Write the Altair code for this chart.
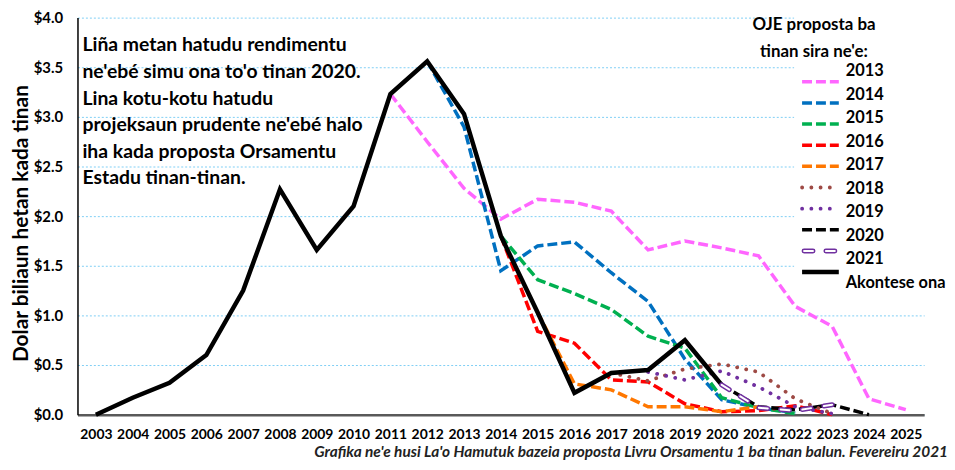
import altair as alt
import pandas as pd

# ---------------- data ----------------
years_axis = list(range(2003, 2026))

actual_years = list(range(2003, 2021))
actual_vals = [0.00, 0.17, 0.32, 0.60, 1.25, 2.27, 1.66, 2.10, 3.23, 3.56,
               3.03, 1.80, 1.03, 0.22, 0.42, 0.45, 0.75, 0.30]

oje2013_years = list(range(2011, 2026))
oje2013_vals = [3.23, 2.75, 2.28, 1.97, 2.17, 2.14, 2.05, 1.66, 1.75, 1.68,
                1.60, 1.09, 0.89, 0.16, 0.05]
oje2014_years = list(range(2012, 2023))
oje2014_vals = [3.56, 2.90, 1.45, 1.70, 1.74, 1.43, 1.14, 0.56, 0.15, 0.07, 0.02]
oje2015_years = list(range(2014, 2023))
oje2015_vals = [1.80, 1.36, 1.22, 1.06, 0.79, 0.67, 0.17, 0.07, 0.01]
oje2016_years = list(range(2014, 2024))
oje2016_vals = [1.80, 0.84, 0.72, 0.35, 0.33, 0.11, 0.03, 0.04, 0.09, 0.00]
oje2017_years = list(range(2015, 2022))
oje2017_vals = [1.03, 0.31, 0.25, 0.08, 0.08, 0.03, 0.08]
oje2018_years = list(range(2017, 2024))
oje2018_vals = [0.42, 0.34, 0.46, 0.51, 0.43, 0.16, 0.01]
oje2019_years = list(range(2018, 2024))
oje2019_vals = [0.43, 0.35, 0.44, 0.28, 0.08, 0.01]
oje2020_years = list(range(2020, 2025))
oje2020_vals = [0.30, 0.08, 0.05, 0.10, 0.00]
oje2021_years = list(range(2020, 2024))
oje2021_vals = [0.30, 0.07, 0.04, 0.10]

series_names = ["2013", "2014", "2015", "2016", "2017", "2018", "2019",
                "2020", "2021", "Akontese ona"]
series_colors = ["#FF66FF", "#0070C0", "#00B050", "#FF0000", "#FF7700",
                 "#9E4A45", "#7030A0", "#000000", "#7030A0", "#000000"]

legend_title = ["OJE proposta  ba", "tinan sira ne'e:"]
annotation_lines = [
    "Liña metan hatudu rendimentu",
    "ne'ebé simu ona to'o tinan 2020.",
    "Lina kotu-kotu hatudu",
    "projeksaun prudente ne'ebé halo",
    "iha kada proposta Orsamentu",
    "Estadu tinan-tinan.",
]
footer_text = ("Grafika ne'e husi La'o Hamutuk bazeia proposta Livru "
               "Orsamentu 1 ba tinan balun. Fevereiru 2021")
y_title = "Dolar biliaun  hetan kada tinan"

# ---------------- build tables ----------------
def frame(name, yrs, vals):
    return pd.DataFrame({"series": name, "year": yrs, "value": vals})

all_series = {
    "2013": (oje2013_years, oje2013_vals),
    "2014": (oje2014_years, oje2014_vals),
    "2015": (oje2015_years, oje2015_vals),
    "2016": (oje2016_years, oje2016_vals),
    "2017": (oje2017_years, oje2017_vals),
    "2018": (oje2018_years, oje2018_vals),
    "2019": (oje2019_years, oje2019_vals),
    "2020": (oje2020_years, oje2020_vals),
    "2021": (oje2021_years, oje2021_vals),
    "Akontese ona": (actual_years, actual_vals),
}

dashed_names = ["2013", "2014", "2015", "2016", "2017", "2020"]
dotted_names = ["2018", "2019"]
hollow_names = ["2021"]
solid_names = ["Akontese ona"]

def group_df(names):
    return pd.concat([frame(n, *all_series[n]) for n in names], ignore_index=True)

def legend_df(names):
    return pd.DataFrame({"series": names, "label": names})

color_scale = alt.Scale(domain=series_names, range=series_colors)
leg_scale = alt.Scale(domain=series_names, range=[54, 267], padding=0)

x_scale = alt.Scale(domain=[2002.5, 2025.5], nice=False, zero=False)
y_scale = alt.Scale(domain=[0, 4], nice=False)

x_axis = alt.Axis(values=years_axis, format="d", labelFontSize=14,
                  labelFontWeight="bold", labelColor="black", labelPadding=13,
                  ticks=False, grid=False, domainColor="#595959",
                  domainWidth=2.5, title=None, labelFlush=False,
                  labelOverlap=False)
y_axis = alt.Axis(values=[0, 0.5, 1, 1.5, 2, 2.5, 3, 3.5, 4], format="$.1f",
                  labelFontSize=15, labelFontWeight="bold", labelColor="black",
                  labelPadding=15, ticks=False, domain=True,
                  domainColor="black", domainWidth=1.5, grid=True,
                  gridColor="#7FCFF5", gridDash=[2, 2], gridWidth=1,
                  title=y_title, titleFontSize=21, titleFontWeight="bold",
                  titleColor="black", titleAngle=270, titleX=-56, titleY=207,
                  titleAlign="center", titleBaseline="middle")

one = pd.DataFrame({"k": [0]})

# white legend background
legend_bg = alt.Chart(one).mark_rect(color="white").encode(
    x=alt.value(722), x2=alt.value(880), y=alt.value(-5), y2=alt.value(280))

def lines(names, first=False, **mark):
    return alt.Chart(group_df(names)).mark_line(**mark).encode(
        x=alt.X("year:Q", scale=x_scale, axis=x_axis),
        y=alt.Y("value:Q", scale=y_scale, axis=y_axis if first else None),
        color=alt.Color("series:N", scale=color_scale, legend=None),
        detail="series:N",
    )

def legend_rules(names, x1=730, x2=767, **mark):
    return alt.Chart(legend_df(names)).mark_rule(**mark).encode(
        x=alt.value(x1), x2=alt.value(x2),
        y=alt.Y("series:N", scale=leg_scale, axis=None),
        color=alt.Color("series:N", scale=color_scale, legend=None),
    )

dash = [10, 4]
dots = [0.1, 9.2]
hollow_dash = [9, 13]

dashed_lines = lines(dashed_names, first=True, strokeWidth=3.5, strokeDash=dash)
dotted_lines = lines(dotted_names, strokeWidth=3.8, strokeDash=dots,
                     strokeCap="round")
solid_lines = lines(solid_names, strokeWidth=4.5)
hollow_outer = lines(hollow_names, strokeWidth=5, strokeDash=hollow_dash,
                     strokeCap="round")
hollow_inner = alt.Chart(group_df(hollow_names)).mark_line(
    strokeWidth=2, strokeDash=hollow_dash, strokeCap="round", color="white"
).encode(
    x=alt.X("year:Q", scale=x_scale, axis=x_axis),
    y=alt.Y("value:Q", scale=y_scale, axis=None),
    detail="series:N",
)

leg_dashed = legend_rules(dashed_names, strokeWidth=3.5, strokeDash=dash)
leg_dotted = legend_rules(dotted_names, strokeWidth=3.8, strokeDash=dots,
                          strokeCap="round")
leg_hollow = legend_rules(hollow_names, x1=732, x2=765, strokeWidth=5,
                          strokeDash=hollow_dash, strokeCap="round")
leg_hollow_in = alt.Chart(legend_df(hollow_names)).mark_rule(
    strokeWidth=2, strokeDash=hollow_dash, strokeCap="round", color="white"
).encode(x=alt.value(732), x2=alt.value(765),
         y=alt.Y("series:N", scale=leg_scale, axis=None))
leg_solid = legend_rules(solid_names, strokeWidth=4.5)

leg_labels = alt.Chart(legend_df(series_names)).mark_text(
    align="left", baseline="middle", fontSize=16.5, fontWeight="bold",
    color="black"
).encode(x=alt.value(774), y=alt.Y("series:N", scale=leg_scale, axis=None),
         text="label:N")

leg_title = alt.Chart(one).mark_text(
    text=legend_title, align="center", baseline="top", fontSize=17,
    fontWeight="bold", lineHeight=28, color="black"
).encode(x=alt.value(742), y=alt.value(-1))

annotation = alt.Chart(one).mark_text(
    text=annotation_lines, align="left", baseline="top", fontSize=19.5,
    fontWeight="bold", lineHeight=26.8, color="black"
).encode(x=alt.value(5), y=alt.value(19))

footer = alt.Chart(one).mark_text(
    text=footer_text, align="right", baseline="alphabetic", fontSize=15.5,
    fontStyle="italic", fontWeight="bold", color="#222222"
).encode(x=alt.value(877), y=alt.value(443))

chart = alt.layer(
    dashed_lines, legend_bg, dotted_lines, solid_lines, hollow_outer,
    hollow_inner, leg_dashed, leg_dotted, leg_hollow, leg_hollow_in,
    leg_solid, leg_labels, leg_title, annotation, footer
).resolve_scale(y="independent").properties(
    width=853, height=400,
    autosize=alt.AutoSizeParams(type="none"),
    padding={"left": 70, "top": 8, "right": 23, "bottom": 46},
).configure(font="Lato").configure_view(strokeWidth=0)

chart.save("out.html", embed_options={"renderer": "svg", "actions": False})
